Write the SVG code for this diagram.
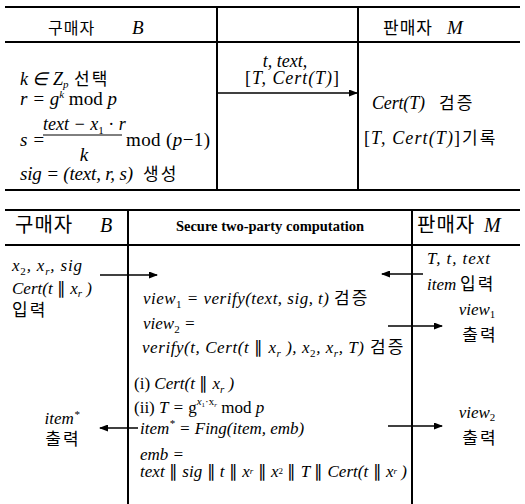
<svg xmlns="http://www.w3.org/2000/svg" width="525" height="504" viewBox="0 0 525 504">
<defs>
<style>
.m{font-family:"Liberation Serif",serif;font-size:17px;font-style:italic;fill:#000}
.t19{font-size:19px}
.t18{font-size:18px}
.u{font-style:normal}
.i{font-style:italic}
.sb{font-size:11px}
.k{font-family:"Noto Sans CJK KR",sans-serif;font-style:normal;font-size:17px;fill:#000;letter-spacing:2px}
.h{font-family:"Noto Sans CJK KR",sans-serif;fill:#000;letter-spacing:1px}
.hb{font-family:"Liberation Serif",serif;font-style:italic;fill:#000}
.sec{font-family:"Liberation Serif",serif;font-weight:bold;font-size:14.5px;fill:#000}
.ln{stroke:#000;stroke-width:2;fill:none}
.ar{stroke:#000;stroke-width:1.6;fill:none;marker-end:url(#ah)}
</style>
<marker id="ah" markerUnits="userSpaceOnUse" markerWidth="9" markerHeight="7" refX="8" refY="3.5" orient="auto">
<path d="M0,0 L9,3.5 L0,7 z" fill="#000"/>
</marker>
</defs>
<rect width="525" height="504" fill="#fff"/>

<g id="grid">
<line class="ln" x1="5" y1="7" x2="520" y2="7" stroke-width="1.6"/>
<line class="ln" x1="5" y1="42" x2="520" y2="42" stroke-width="2.6"/>
<line class="ln" x1="5" y1="190" x2="520" y2="190"/>
<line class="ln" x1="217" y1="7" x2="217" y2="190"/>
<line class="ln" x1="358" y1="7" x2="358" y2="190"/>
<line class="ln" x1="5" y1="210" x2="520" y2="210" stroke-width="1.6"/>
<line class="ln" x1="5" y1="245" x2="520" y2="245"/>
<line class="ln" x1="128" y1="210" x2="128" y2="504"/>
<line class="ln" x1="412" y1="210" x2="412" y2="504"/>
</g>

<g id="top-buyer">
<text x="48" y="34" class="h" font-size="16">구매자</text>
<text x="132" y="34" class="hb" font-size="19">B</text>
<text x="20" y="85" class="m t18">k ∈ Z<tspan class="sb" dy="3">p</tspan></text>
<text x="74" y="85" class="k">선택</text>
<text x="20" y="105" class="m t19">r = g<tspan class="sb" dy="-7">k</tspan><tspan class="u" dy="7"> mod </tspan>p</text>
<text x="20" y="146" class="m t19">s =</text>
<text x="43" y="130" class="m t18">text − x<tspan class="sb u" dy="4">1</tspan><tspan class="u" dy="-4"> · </tspan>r</text>
<line x1="43" y1="135" x2="122" y2="135" stroke="#000" stroke-width="1"/>
<text x="84" y="161" text-anchor="middle" class="m t19">k</text>
<text x="126" y="146" class="m u t19" textLength="84">mod (<tspan class="i">p</tspan>−1)</text>
<text x="20" y="180" class="m t19" textLength="113">sig = (text, r, s)</text>
<text x="143" y="180" class="k" font-size="18" letter-spacing="4">생성</text>
</g>

<g id="top-middle">
<text x="285" y="67" text-anchor="middle" class="m t18">t, text,</text>
<text x="245" y="84" class="m t18" textLength="94"><tspan class="u">[</tspan>T, Cert(T)<tspan class="u">]</tspan></text>
</g>

<g id="top-seller">
<text x="383" y="34" class="h" font-size="17">판매자</text>
<text x="447" y="34" class="hb" font-size="19">M</text>
<text x="372" y="109" class="m t18" textLength="53">Cert(T)</text>
<text x="439" y="109" class="k">검증</text>
<text x="364" y="144" class="m t18" textLength="96"><tspan class="u">[</tspan>T, Cert(T)<tspan class="u">]</tspan></text>
<text x="462" y="144" class="k">기록</text>
</g>

<g id="bottom-buyer">
<text x="15" y="232" class="h" font-size="20">구매자</text>
<text x="100" y="232" class="hb" font-size="20">B</text>
<text x="12" y="271" class="m" textLength="70">x<tspan class="sb u" dy="4">2</tspan><tspan dy="-4">, x</tspan><tspan class="sb" dy="4">r</tspan><tspan dy="-4">, sig</tspan></text>
<text x="12" y="294" class="m" textLength="80">Cert(t <tspan class="u">∥</tspan> x<tspan class="sb" dy="3">r</tspan><tspan dy="-3"> )</tspan></text>
<text x="12" y="316" class="k" font-size="16" letter-spacing="1">입력</text>
<text x="62" y="424" text-anchor="middle" class="m" font-size="16">item<tspan class="sb" dy="-6">*</tspan></text>
<text x="63" y="445" text-anchor="middle" class="k" font-size="16" letter-spacing="1">출력</text>
</g>

<g id="bottom-computation">
<text x="270" y="231" text-anchor="middle" class="sec">Secure two-party computation</text>
<text x="143" y="304" class="m" font-size="15.5" textLength="186">view<tspan class="sb u" dy="4">1</tspan><tspan dy="-4"> = verify(text, sig, t)</tspan></text>
<text x="334" y="304" class="k" letter-spacing="1">검증</text>
<text x="143" y="329" class="m" font-size="15.5">view<tspan class="sb u" dy="4">2</tspan><tspan dy="-4"> =</tspan></text>
<text x="142" y="353" class="m" font-size="15.5" textLength="222">verify(t, Cert(t <tspan class="u">∥</tspan> x<tspan class="sb" dy="4">r</tspan><tspan dy="-4"> ), x</tspan><tspan class="sb u" dy="4">2</tspan><tspan dy="-4">, x</tspan><tspan class="sb" dy="4">r</tspan><tspan dy="-4">, T)</tspan></text>
<text x="370" y="353" class="k" letter-spacing="1">검증</text>
<text x="134" y="389" class="m" font-size="17.5"><tspan class="u">(i) </tspan>Cert(t <tspan class="u">∥</tspan> x<tspan class="sb" dy="4">r</tspan><tspan dy="-4"> )</tspan></text>
<text x="134" y="413" class="m" font-size="18"><tspan class="u">(ii) </tspan>T = <tspan class="u">g</tspan><tspan class="sb" dy="-8">x</tspan><tspan class="u" font-size="7" dy="2">1</tspan><tspan class="sb u" dy="-2">·x</tspan><tspan font-size="7" dy="2">r</tspan><tspan class="u" dy="6">  mod </tspan>p</text>
<text x="140" y="434" class="m" font-size="17">item<tspan class="sb" dy="-7">*</tspan><tspan dy="7"> = Fing(item, emb)</tspan></text>
<text x="140" y="460" class="m" font-size="16">emb =</text>
<text x="140" y="477" class="m" font-size="14" textLength="267">text <tspan class="u">∥</tspan> sig <tspan class="u">∥</tspan> t <tspan class="u">∥</tspan> x<tspan font-size="9" dy="-3">r</tspan><tspan dy="3"> </tspan><tspan class="u">∥</tspan> x<tspan class="u" font-size="9" dy="-3">2</tspan><tspan dy="3"> </tspan><tspan class="u">∥</tspan> T <tspan class="u">∥</tspan> Cert(t <tspan class="u">∥</tspan> x<tspan font-size="9" dy="-3">r</tspan><tspan dy="3"> )</tspan></text>
</g>

<g id="bottom-seller">
<text x="417" y="232" class="h" font-size="20">판매자</text>
<text x="484" y="232" class="hb" font-size="20">M</text>
<text x="427" y="264" class="m" textLength="63">T, t, text</text>
<text x="427" y="290" class="m">item</text>
<text x="460" y="290" class="k">입력</text>
<text x="477" y="315" text-anchor="middle" class="m" font-size="16">view<tspan class="sb u" dy="3">1</tspan></text>
<text x="480" y="341" text-anchor="middle" class="k" font-size="16" letter-spacing="1">출력</text>
<text x="477" y="418" text-anchor="middle" class="m" font-size="16">view<tspan class="sb u" dy="3">2</tspan></text>
<text x="480" y="444" text-anchor="middle" class="k" font-size="16" letter-spacing="1">출력</text>
</g>

<g id="connectors">
<line class="ar" x1="217" y1="93" x2="357" y2="93" stroke-width="2"/>
<line class="ar" x1="100" y1="275" x2="157" y2="275"/>
<line class="ar" x1="423" y1="274" x2="382" y2="274"/>
<line class="ar" x1="388" y1="326" x2="442" y2="326"/>
<line class="ar" x1="388" y1="426" x2="442" y2="426"/>
<line class="ar" x1="138" y1="428" x2="100" y2="428"/>
</g>
</svg>
